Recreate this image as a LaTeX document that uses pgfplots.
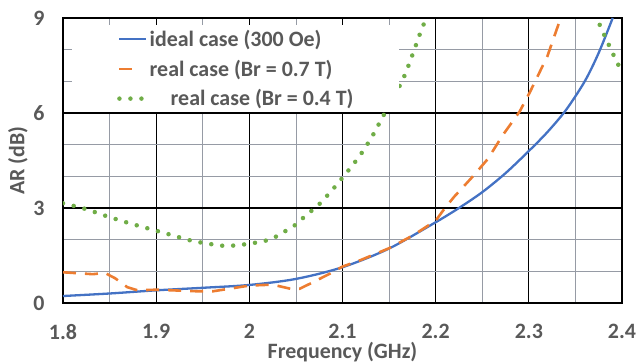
\documentclass[border=0pt]{standalone}
\usepackage{fontspec}
\setmainfont{Carlito}
\usepackage{pgfplots}
\pgfplotsset{compat=1.18}
\definecolor{cblue}{HTML}{4472C4}
\definecolor{corange}{HTML}{ED7D31}
\definecolor{cgreen}{HTML}{70AD47}
\definecolor{ctext}{HTML}{595959}
\definecolor{cgrid}{RGB}{150,155,165}
\begin{document}
\begin{tikzpicture}
\begin{axis}[
 scale only axis, width=559bp, height=285bp,
 xmin=1.8, xmax=2.4, ymin=0, ymax=9,
 xtick={1.8,1.9,2.0,2.1,2.2,2.3,2.4},
 xticklabels={1.8,1.9,2,2.1,2.2,2.3,2.4},
 ytick={0,3,6,9}, yticklabels={0,3,6,9},
 minor x tick num=1, minor y tick num=2,
 grid=both,
 major grid style={black, line width=1.1bp},
 minor grid style={cgrid, line width=0.8bp},
 major tick length=0pt, minor tick length=0pt,
 axis line style={black, line width=1.6bp},
 tick label style={font=\fontsize{22}{24}\selectfont\bfseries, text=ctext},
 xticklabel style={yshift=-17.5bp},
 yticklabel style={xshift=-15bp},
 label style={font=\fontsize{22}{24}\selectfont\bfseries, text=ctext},
 xlabel={Frequency (GHz)},
 ylabel={AR (dB)},
 xlabel style={at={(axis description cs:0.5,0)}, anchor=center, yshift=-49.5bp, inner sep=0pt},
 ylabel style={at={(axis description cs:0,0.5)}, anchor=center, yshift=45bp},
 legend cell align=left,
 legend style={at={(0.0161,0.9754)}, anchor=north west, fill=white, draw=none,
   inner xsep=45bp, inner ysep=4bp, row sep=10bp,
   font=\fontsize{22}{24}\selectfont\bfseries, text=ctext,
   nodes={inner sep=1bp}},
 legend image code/.code={\draw[#1] (0bp,0bp) -- (27bp,0bp);},
]
\addplot[cblue, line width=2.3bp, smooth] coordinates {
(1.8,0.22) (1.85,0.3) (1.9,0.4) (1.95,0.48) (2.0,0.57) (2.05,0.76)
(2.1,1.13) (2.15,1.72) (2.2,2.55) (2.225,3.0) (2.25,3.5) (2.275,4.1)
(2.3,4.8) (2.32,5.4) (2.34,6.1) (2.36,7.0) (2.375,7.9) (2.39,9.0)};
\addlegendentry{ideal case (300 Oe)}
\addplot[corange, line width=2.6bp, dash pattern=on 13bp off 9bp,
  legend image code/.code={\draw[corange, line width=2.6bp] (0bp,0bp) -- (13bp,0bp);}] coordinates {
(1.8,0.97) (1.832,0.91) (1.845,0.95) (1.856,0.78) (1.869,0.5) (1.88,0.4)
(1.9,0.42) (1.944,0.37) (1.961,0.37) (2.0,0.55) (2.025,0.58) (2.044,0.45)
(2.054,0.45) (2.068,0.65) (2.09,0.98) (2.1,1.15) (2.119,1.35) (2.15,1.73)
(2.176,2.14) (2.2,2.6) (2.21,3.0) (2.22,3.36) (2.24,4.0) (2.256,4.55)
(2.272,5.3) (2.29,6.04) (2.301,6.65) (2.32,7.8) (2.333,8.9) (2.335,9.05)};
\addlegendentry{real case (Br = 0.7 T)}
\addplot[cgreen, line width=4.5bp, line cap=round, dash pattern=on 0bp off 11bp, smooth] coordinates {
(1.8,3.15) (1.824,2.97) (1.846,2.75) (1.870,2.53) (1.893,2.34) (1.916,2.15)
(1.939,1.96) (1.963,1.84) (1.976,1.8) (1.988,1.83) (2.0,1.87) (2.011,1.93)
(2.024,2.02) (2.034,2.2) (2.045,2.37) (2.053,2.56) (2.062,2.8) (2.074,3.09)
(2.089,3.57) (2.104,4.1) (2.119,4.67) (2.132,5.27) (2.143,5.87) (2.155,6.5)
(2.166,7.14) (2.175,7.83) (2.183,8.49) (2.19,9.05) (2.2,10.2) (2.36,10.2)
(2.374,8.94) (2.384,8.27) (2.394,7.64) (2.4,7.3)};
\addlegendentry{\hspace{21bp}real case (Br = 0.4 T)}
\coordinate (sw) at (rel axis cs:0,0);
\coordinate (ne) at (rel axis cs:1,1);
\end{axis}
\pgfresetboundingbox
\path ([xshift=-63bp,yshift=-60bp]sw) rectangle ([xshift=16bp,yshift=18bp]ne);
\end{tikzpicture}
\end{document}
